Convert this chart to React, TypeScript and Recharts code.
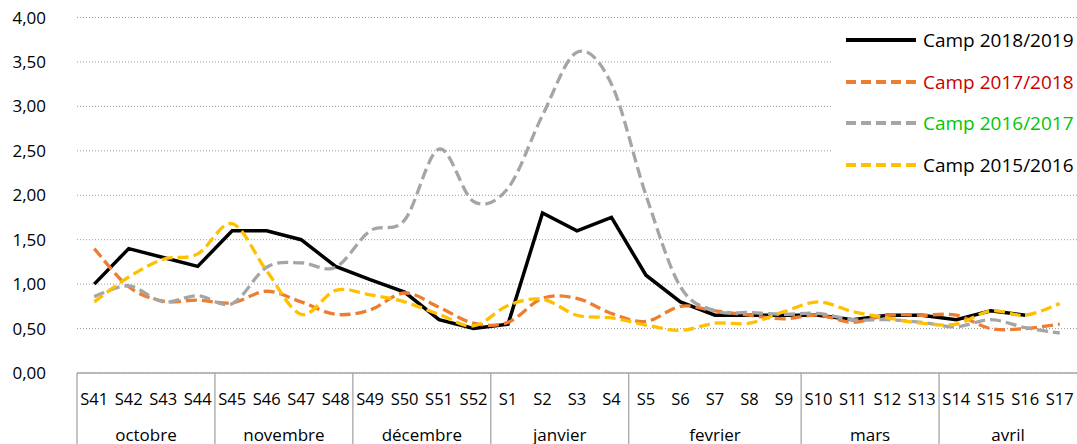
import React from 'react';
import { LineChart, Line, XAxis, YAxis, CartesianGrid, Legend } from 'recharts';

const weeks = [
    'S41', 'S42', 'S43', 'S44', 'S45', 'S46', 'S47', 'S48', 'S49', 'S50', 'S51', 'S52',
    'S1', 'S2', 'S3', 'S4', 'S5', 'S6', 'S7', 'S8', 'S9', 'S10', 'S11', 'S12', 'S13',
    'S14', 'S15', 'S16', 'S17'
];

const months = ['octobre', 'novembre', 'décembre', 'janvier', 'fevrier', 'mars', 'avril'];
const weeksPerMonth = [4, 4, 4, 4, 5, 4, 4];

const camp2018 = [
    1.0, 1.4, 1.3, 1.2, 1.6, 1.6, 1.5, 1.2, 1.05, 0.91, 0.6, 0.5,
    0.55, 1.8, 1.6, 1.75, 1.1, 0.8, 0.65, 0.65, 0.65, 0.65, 0.6, 0.65, 0.65,
    0.6, 0.7, 0.65, null
];
const camp2017 = [
    1.4, 0.97, 0.81, 0.82, 0.79, 0.92, 0.8, 0.66, 0.71, 0.9, 0.74, 0.56,
    0.57, 0.84, 0.84, 0.67, 0.58, 0.75, 0.7, 0.65, 0.61, 0.65, 0.57, 0.65, 0.65,
    0.65, 0.5, 0.5, 0.55
];
const camp2016 = [
    0.86, 0.98, 0.8, 0.87, 0.78, 1.19, 1.24, 1.19, 1.6, 1.72, 2.52, 1.93,
    2.08, 2.9, 3.61, 3.25, 2.0, 0.97, 0.7, 0.68, 0.66, 0.67, 0.6, 0.6, 0.57,
    0.52, 0.6, 0.51, 0.45
];
const camp2015 = [
    0.8, 1.08, 1.28, 1.34, 1.68, 1.15, 0.66, 0.93, 0.88, 0.8, 0.66, 0.53,
    0.76, 0.83, 0.65, 0.62, 0.54, 0.48, 0.56, 0.56, 0.69, 0.8, 0.69, 0.62, 0.56,
    0.55, 0.7, 0.65, 0.78
];

const yTicks = [0, 0.5, 1, 1.5, 2, 2.5, 3, 3.5, 4];

// Excel-style smoothed line (Catmull-Rom through every point)
const smoothCurve = (context: any) => {
    let pts: number[][] = [];
    return {
        areaStart() {},
        areaEnd() {},
        lineStart() {
            pts = [];
        },
        point(x: number, y: number) {
            pts.push([+x, +y]);
        },
        lineEnd() {
            const n = pts.length;
            if (!n) return;
            context.moveTo(pts[0][0], pts[0][1]);
            for (let i = 0; i < n - 1; i++) {
                const p0 = pts[i - 1] || pts[i];
                const p1 = pts[i];
                const p2 = pts[i + 1];
                const p3 = pts[i + 2] || p2;
                const t = 1 / 6;
                context.bezierCurveTo(
                    p1[0] + (p2[0] - p0[0]) * t, p1[1] + (p2[1] - p0[1]) * t,
                    p2[0] - (p3[0] - p1[0]) * t, p2[1] - (p3[1] - p1[1]) * t,
                    p2[0], p2[1]
                );
            }
        },
    };
};

const series = [
    { key: 'c2018', name: 'Camp 2018/2019', color: '#000000', text: '#000000', width: 3.5, dash: undefined, type: 'linear' as any },
    { key: 'c2017', name: 'Camp 2017/2018', color: '#ED7D31', text: '#C80000', width: 3.3, dash: '11 5', type: smoothCurve },
    { key: 'c2016', name: 'Camp 2016/2017', color: '#A5A5A5', text: '#00C800', width: 3.3, dash: '11 5', type: smoothCurve },
    { key: 'c2015', name: 'Camp 2015/2016', color: '#FFC000', text: '#000000', width: 3.3, dash: '11 5', type: smoothCurve },
];

const data = weeks.map((w, i) => ({
    week: w,
    c2018: camp2018[i],
    c2017: camp2017[i],
    c2016: camp2016[i],
    c2015: camp2015[i],
}));

const W = 1077;
const H = 444;
const Y_W = 77;
const AXIS_H = 71;
const FONT = '"Open Sans", "Noto Sans", sans-serif';
const BAND = (W - Y_W) / weeks.length;
const AXIS_GRAY = '#A6A6A6';

// first week index of every month
const monthStarts: number[] = [];
weeksPerMonth.reduce((acc, n) => {
    monthStarts.push(acc);
    return acc + n;
}, 0);

const WeekTick = (props: any) => {
    const { x, y, payload } = props;
    const i = payload.index;
    const m = monthStarts.indexOf(i);
    return (
        <g>
            <text x={x} y={y + 25} textAnchor="middle" dominantBaseline="central" fontSize={16.5} fontFamily={FONT} fill="#000">
                {payload.value}
            </text>
            {m >= 0 && (
                <>
                    <line x1={x - BAND / 2} x2={x - BAND / 2} y1={y} y2={y + AXIS_H} stroke={AXIS_GRAY} strokeWidth={1.3} />
                    <text
                        x={x - BAND / 2 + (weeksPerMonth[m] * BAND) / 2}
                        y={y + 61}
                        textAnchor="middle"
                        dominantBaseline="central"
                        fontSize={17}
                        fontFamily={FONT}
                        fill="#000"
                    >
                        {months[m]}
                    </text>
                </>
            )}
        </g>
    );
};

const LegendBox = () => (
    <div style={{ background: '#fff', width: '100%', height: '100%', fontFamily: FONT }}>
        {series.map((s, i) => (
            <div key={s.key} style={{ position: 'absolute', left: 12, top: 4 + i * 41.7, height: 28, display: 'flex', alignItems: 'center' }}>
                <svg width={72} height={10}>
                    <line x1={1} x2={71} y1={5} y2={5} stroke={s.color} strokeWidth={s.width + 0.5} strokeDasharray={s.dash ? '10 5' : undefined} />
                </svg>
                <span style={{ marginLeft: 6, fontSize: 19, color: s.text, whiteSpace: 'nowrap' }}>{s.name}</span>
            </div>
        ))}
    </div>
);

export default function App() {
    return (
        <div style={{ width: W, height: H, background: '#fff' }}>
            <style>{'body{margin:0}'}</style>
            <LineChart width={W} height={H} data={data} margin={{ top: 17.5, right: 0, bottom: 0, left: 0 }}>
                <CartesianGrid vertical={false} stroke="#9A9A9A" strokeDasharray="1 2" />
                <XAxis
                    dataKey="week"
                    interval={0}
                    height={AXIS_H}
                    padding={{ left: BAND / 2, right: BAND / 2 }}
                    tickLine={false}
                    tickSize={0}
                    tickMargin={0}
                    axisLine={{ stroke: AXIS_GRAY, strokeWidth: 1.3 }}
                    tick={<WeekTick />}
                />
                <YAxis
                    domain={[0, 4]}
                    ticks={yTicks}
                    width={Y_W}
                    axisLine={false}
                    tickLine={false}
                    tickSize={0}
                    tickMargin={31}
                    tick={{ fill: '#000', fontSize: 17, fontFamily: FONT }}
                    tickFormatter={(v: number) => v.toFixed(2).replace('.', ',')}
                />
                <Legend
                    layout="horizontal"
                    verticalAlign="middle"
                    align="center"
                    content={<LegendBox />}
                    wrapperStyle={{ top: 22, left: 833, width: 244, height: 166, bottom: 'auto' }}
                />
                {series.map((s) => (
                    <Line
                        key={s.key}
                        dataKey={s.key}
                        name={s.name}
                        type={s.type}
                        stroke={s.color}
                        strokeWidth={s.width}
                        strokeDasharray={s.dash}
                        dot={false}
                        activeDot={false}
                        isAnimationActive={false}
                    />
                ))}
            </LineChart>
        </div>
    );
}
